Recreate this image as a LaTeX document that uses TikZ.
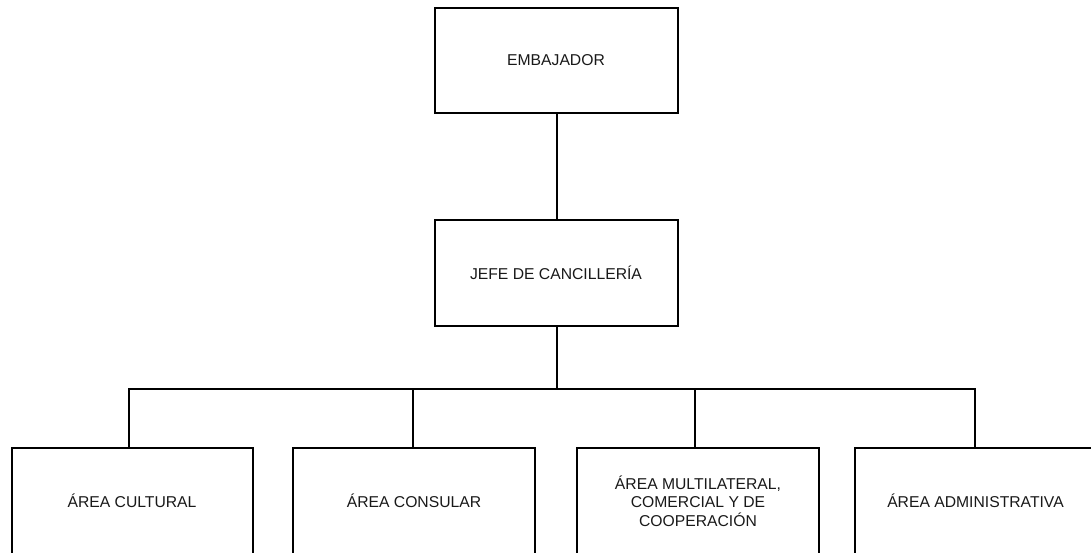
\documentclass[tikz,border=0pt]{standalone}
\usepackage{fontspec}
\setmainfont{Liberation Sans}
\begin{document}
\begin{tikzpicture}[x=1pt,y=-1pt,
  box/.style={draw=black,line width=2pt,rectangle,inner sep=0pt,
    font=\fontsize{15.7}{18.3}\selectfont,align=center,text=black!90},
  conn/.style={draw=black,line width=2pt}]
\useasboundingbox (0,0) rectangle (1091,553);
\clip (0,0) rectangle (1091,553);
\node[box,minimum width=243pt,minimum height=105pt] (emb) at (556,60.5) {EMBAJADOR};
\node[box,minimum width=243pt,minimum height=106pt] (jefe) at (556,273) {JEFE DE CANCILLERÍA};
\node[box,minimum width=241pt,minimum height=106pt] (cul) at (132,501) {ÁREA CULTURAL};
\node[box,minimum width=242pt,minimum height=106pt] (con) at (414,501) {ÁREA CONSULAR};
\node[box,minimum width=242pt,minimum height=106pt] (mul) at (698,501) {ÁREA MULTILATERAL,\\COMERCIAL Y DE\\COOPERACIÓN};
\node[box,minimum width=241pt,minimum height=106pt] (adm) at (975.5,501) {ÁREA ADMINISTRATIVA};
\coordinate (hub) at (557,389);
\coordinate (b1) at (129,389);
\coordinate (b2) at (413,389);
\coordinate (b3) at (695,389);
\coordinate (b4) at (975,389);
\draw[conn] (emb.south -| hub) -- (jefe.north -| hub);
\draw[conn] (jefe.south -| hub) -- (hub);
\draw[conn] ([xshift=-1pt]b1) -- ([xshift=1pt]b4);
\draw[conn] (b1) -- (b1 |- cul.north);
\draw[conn] (b2) -- (b2 |- con.north);
\draw[conn] (b3) -- (b3 |- mul.north);
\draw[conn] (b4) -- (b4 |- adm.north);
\end{tikzpicture}
\end{document}
